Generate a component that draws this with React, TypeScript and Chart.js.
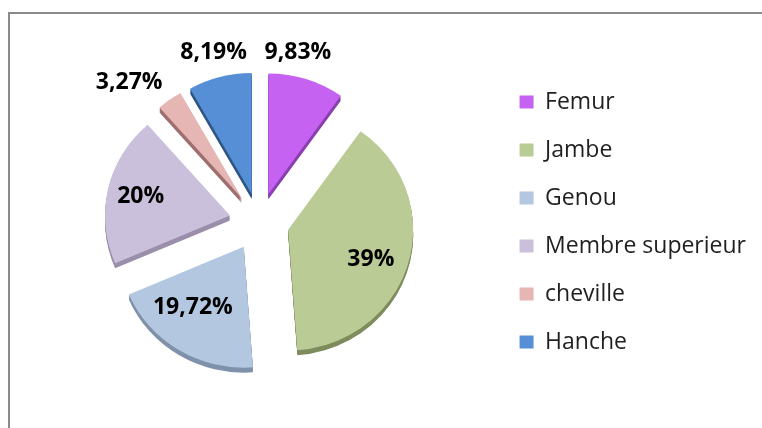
import React, { useEffect, useRef } from 'react';
import { Chart, registerables } from 'chart.js';

Chart.register(...registerables);

// ---- data ----
const categories = ['Femur', 'Jambe', 'Genou', 'Membre superieur', 'cheville', 'Hanche'];
const values = [9.83, 39, 19.72, 20, 3.27, 8.19];
const valueLabels = ['9,83%', '39%', '19,72%', '20%', '3,27%', '8,19%'];

// ---- style ----
const colors = ['#C562F2', '#BACB96', '#B3C7E0', '#CAC0DB', '#E6B6B4', '#578FD6'];
const sideColors = ['#8A3FAE', '#7E8C5E', '#7F92AA', '#9A8FAB', '#9E6F6E', '#2E5584'];
const EXPLODE = 30;
const DEPTH = 5;
const TILT = 0.967; // vertical squash of the 3D view
// label distance (fraction of radius, from pie centre) and angular nudge (deg)
const labelDist = [1.452, 0.94, 0.872, 0.976, 1.566, 1.465];
const labelNudge = [-5.4, 2.7, 6.3, 0.9, -6.3, 0.3];

const explode3d = {
  id: 'explode3d',
  beforeDatasetsDraw(chart: any) {
    const meta = chart.getDatasetMeta(0);
    const ctx: CanvasRenderingContext2D = chart.ctx;
    const paint = (arc: any, dy: number, color: string) => {
      const p = arc.getProps(['x', 'y', 'startAngle', 'endAngle', 'outerRadius'], true);
      const mid = (p.startAngle + p.endAngle) / 2;
      const ox = Math.cos(mid) * EXPLODE;
      const oy = Math.sin(mid) * EXPLODE;
      ctx.save();
      ctx.translate(p.x, p.y + dy);
      ctx.scale(1, TILT);
      ctx.beginPath();
      ctx.moveTo(ox, oy);
      ctx.arc(ox, oy, p.outerRadius, p.startAngle, p.endAngle);
      ctx.closePath();
      ctx.fillStyle = color;
      ctx.fill();
      ctx.restore();
    };
    for (let d = DEPTH; d >= 1; d--) {
      meta.data.forEach((arc: any, i: number) => paint(arc, d, sideColors[i]));
    }
    meta.data.forEach((arc: any, i: number) => paint(arc, 0, colors[i]));
    return false;
  },
  afterDraw(chart: any) {
    const meta = chart.getDatasetMeta(0);
    const ctx: CanvasRenderingContext2D = chart.ctx;
    ctx.save();
    ctx.font = 'bold 23px "Open Sans"';
    ctx.fillStyle = '#000';
    ctx.textAlign = 'center';
    ctx.textBaseline = 'middle';
    meta.data.forEach((arc: any, i: number) => {
      const p = arc.getProps(['x', 'y', 'startAngle', 'endAngle', 'outerRadius'], true);
      const a = (p.startAngle + p.endAngle) / 2 + (labelNudge[i] * Math.PI) / 180;
      const r = labelDist[i] * p.outerRadius;
      ctx.fillText(valueLabels[i], p.x + Math.cos(a) * r, p.y + TILT * Math.sin(a) * r + 2);
    });
    ctx.restore();
  },
};

export default function App() {
  const ref = useRef<HTMLCanvasElement | null>(null);
  useEffect(() => {
    if (!ref.current) return;
    const chart = new Chart(ref.current, {
      type: 'pie',
      data: {
        labels: categories,
        datasets: [
          {
            data: values,
            backgroundColor: colors,
            borderWidth: 0,
          },
        ],
      },
      options: {
        responsive: false,
        animation: false,
        radius: 125,
        layout: { padding: { left: 24, top: 16, right: 6, bottom: 0 } },
        plugins: {
          tooltip: { enabled: false },
          legend: {
            position: 'right',
            labels: {
              boxWidth: 14,
              boxHeight: 13,
              padding: 25,
              color: '#1f1f1f',
              font: { family: '"Open Sans"', size: 23 },
            },
          },
        },
      } as any,
      plugins: [explode3d],
    });
    return () => chart.destroy();
  }, []);

  return (
    <div style={{ position: 'fixed', left: 0, top: 0, width: 762, height: 428, overflow: 'hidden', background: '#fff' }}>
      <div
        style={{
          position: 'absolute',
          left: 8,
          top: 12,
          width: 900,
          height: 600,
          border: '2px solid #8a8a8a',
          boxSizing: 'border-box',
        }}
      />
      <canvas ref={ref} width={762} height={428} style={{ position: 'absolute', left: 0, top: 0 }} />
    </div>
  );
}
